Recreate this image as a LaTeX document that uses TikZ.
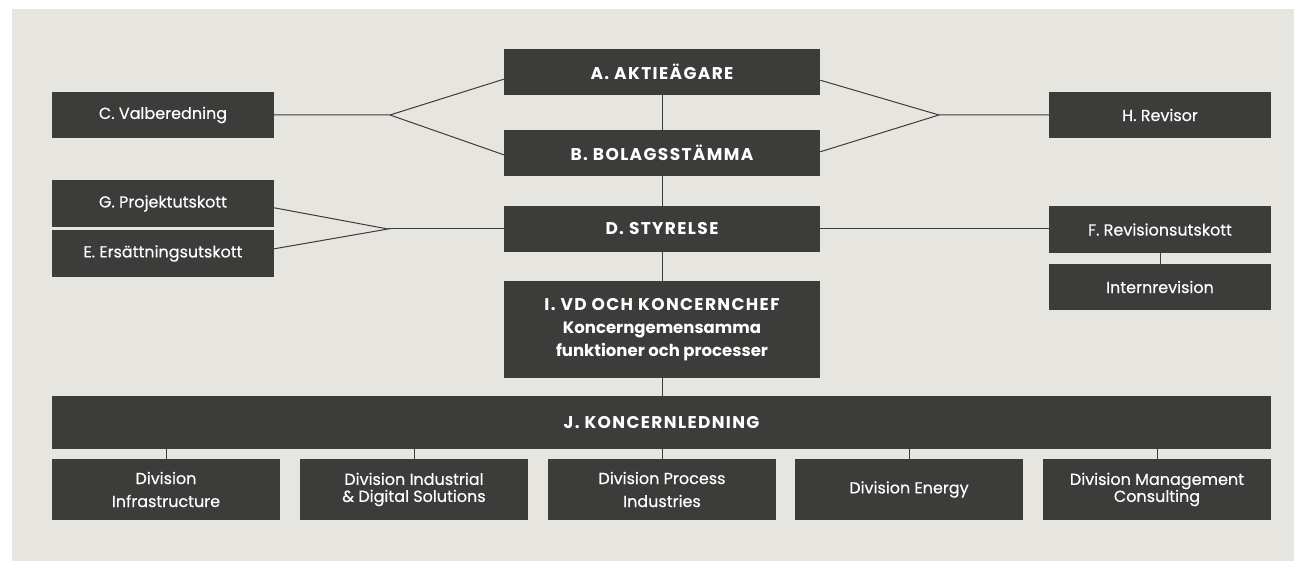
\documentclass[tikz,border=0pt]{standalone}
\usepackage{fontspec}
\setmainfont{Poppins}[FakeBold=0.35]
\newfontfamily\capsfont{Poppins}[LetterSpace=8.0]
\newfontfamily\plainbold{Poppins}
\usetikzlibrary{calc}
\definecolor{bgc}{HTML}{E6E5E0}
\definecolor{boxc}{HTML}{3C3C3A}
\definecolor{linec}{HTML}{3C3C3A}
\begin{document}
\begin{tikzpicture}[x=1pt,y=-1pt,
  box/.style={fill=boxc,text=white,inner sep=0pt,align=center,anchor=center,font=\fontsize{16}{23}\selectfont},
  topbox/.style={box,minimum width=316pt,minimum height=46pt,font=\capsfont\bfseries\fontsize{17}{23}\selectfont},
  sidebox/.style={box,minimum width=222pt,minimum height=46pt},
  divbox/.style={box,minimum width=228pt,minimum height=61pt},
  conn/.style={draw=linec,line width=1pt}]
\useasboundingbox (0,0) rectangle (1294,561);
\fill[white] (0,0) rectangle (1294,561);
\fill[bgc] (12,9) rectangle (1294,561);
% central column
\node[topbox] (A) at (662,72) {A. AKTIEÄGARE};
\node[topbox] (B) at (662,153) {B. BOLAGSSTÄMMA};
\node[topbox] (D) at (662,229) {D. STYRELSE};
\node[topbox,minimum height=97pt] (I) at (662,329.5) {I. VD OCH KONCERNCHEF\\{\plainbold\bfseries\fontsize{16.5}{23}\selectfont Koncerngemensamma}\\{\plainbold\bfseries\fontsize{16.5}{23}\selectfont funktioner och processer}};
\node[topbox,minimum width=1219pt,minimum height=53pt] (J) at (661.5,422.5) {J. KONCERNLEDNING};
% left side
\node[sidebox] (C) at (163,115) {C. Valberedning};
\node[sidebox,minimum height=47pt] (G) at (163,203.5) {G. Projektutskott};
\node[sidebox,minimum height=47pt] (E) at (163,253.5) {E. Ersättningsutskott};
% right side
\node[sidebox] (H) at (1160,115) {H. Revisor};
\node[sidebox,minimum height=47pt] (F) at (1160,229.5) {F. Revisionsutskott};
\node[sidebox] (R) at (1160,287) {Internrevision};
% divisions
\node[divbox] (d1) at (166,489.5) {Division\\Infrastructure};
\node[divbox,font=\fontsize{16}{17}\selectfont] (d2) at (414,489.5) {Division Industrial\\\& Digital Solutions};
\node[divbox] (d3) at (662,489.5) {Division Process\\Industries};
\node[divbox] (d4) at (909,489.5) {Division Energy};
\node[divbox,font=\fontsize{16}{17}\selectfont] (d5) at (1157,489.5) {Division Management\\Consulting};
% fork coordinates
\coordinate (fl) at (390,115);
\coordinate (fr) at (939,115);
\coordinate (fg) at (388,229);
% connectors
\draw[conn] (C.east) -- (fl) -- ($(A.south west)+(0,-16)$);
\draw[conn] (fl) -- ($(B.north west)+(0,25)$);
\draw[conn] (H.west) -- (fr) -- ($(A.south east)+(0,-15)$);
\draw[conn] (fr) -- ($(B.north east)+(0,22)$);
\draw[conn] ($(G.north east)+(0,28)$) -- (fg) -- ($(E.north east)+(0,19)$);
\draw[conn] (fg) -- (D.west);
\draw[conn] (D.east) -- (D.east -| F.west);
\draw[conn] (A.south) -- (B.north);
\draw[conn] (B.south) -- (D.north);
\draw[conn] (D.south) -- (I.north);
\draw[conn] (I.south) -- (I.south |- J.north);
\draw[conn] (F.south) -- (R.north);
\foreach \d in {d1,d2,d3,d4,d5}{
  \draw[conn] (\d.north) -- (\d.north |- J.south);
}
\end{tikzpicture}
\end{document}
